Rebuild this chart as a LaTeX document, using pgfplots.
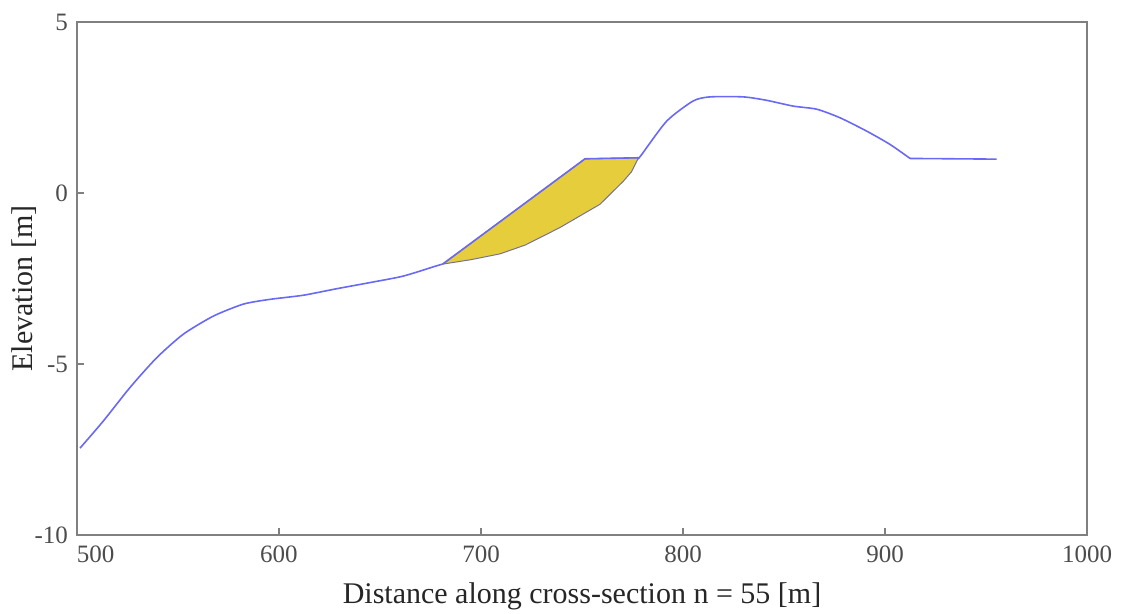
\documentclass[border=0pt]{standalone}
\usepackage{pgfplots}
\pgfplotsset{compat=1.18}
\usepackage{fontspec}
\setmainfont{Liberation Serif}
\definecolor{axgray}{RGB}{128,128,128}
\definecolor{ground}{RGB}{105,105,245}
\definecolor{fillyel}{RGB}{230,205,60}
\definecolor{edgeg}{RGB}{120,115,140}
\begin{document}
\begin{tikzpicture}
\begin{axis}[
  scale only axis,
  width=505pt, height=256.5pt,
  xmin=500, xmax=1000, ymin=-10, ymax=5,
  axis line style={axgray, line width=1pt},
  tick style={axgray, line width=1pt},
  tick align=inside, major tick length=3.5pt,
  xtick pos=bottom, ytick pos=left,
  xtick={500,600,700,800,900,1000},
  xticklabels={\rlap{500},600,700,800,900,1000},
  ytick={-10,-5,0,5},
  yticklabels={-10,-5,0,5},
  tick label style={font=\fontsize{12.5}{14}\selectfont, text=black!70},
  xticklabel style={yshift=-2pt},
  yticklabel style={xshift=-1pt},
  xlabel={Distance along cross-section n = 55 [m]},
  ylabel={Elevation [m]},
  label style={font=\fontsize{15}{17}\selectfont, text=black!85},
  xlabel style={yshift=-3pt},
  ylabel style={yshift=-8pt, xshift=-5pt},
  clip=false,
]
\addplot[ground, line width=0.8pt, smooth, tension=0.4] coordinates {
(501.5,-7.46) (513,-6.67) (526.2,-5.69) (539.4,-4.82) (552.6,-4.13) (567.5,-3.60)
(582.3,-3.25) (595.5,-3.11) (612,-2.99) (628.5,-2.80) (645,-2.62) (661.5,-2.43)
(678,-2.13) (681,-2.08)};
\addplot[fill=fillyel, draw=edgeg, line width=0.5pt] coordinates {
(681,-2.08) (751.5,1.0) (778,1.03) (774.5,0.62) (770.4,0.34) (758.9,-0.33) (739.1,-1.01)
(722,-1.52) (709.4,-1.78) (695,-1.95) (681,-2.08)} -- cycle;
\addplot[ground, line width=0.8pt] coordinates {(681,-2.08) (751.5,1.0) (778,1.03)};
\addplot[ground, line width=0.8pt, smooth, tension=0.4] coordinates {
(778,1.03) (779,1.08) (791.9,2.1) (805,2.69) (813.4,2.81) (829.9,2.81) (841.4,2.71)
(854.6,2.54) (866.2,2.45) (877.7,2.2) (890.9,1.81) (902.5,1.42) (912.4,1.01)};
\addplot[ground, line width=0.8pt] coordinates {(912.4,1.01) (955.3,0.99)};
\end{axis}
\pgfresetboundingbox
\path (current axis.south west) ++(-38.5pt,-39.5pt) rectangle ([xshift=21.5pt,yshift=11pt]current axis.north east);
\end{tikzpicture}
\end{document}
